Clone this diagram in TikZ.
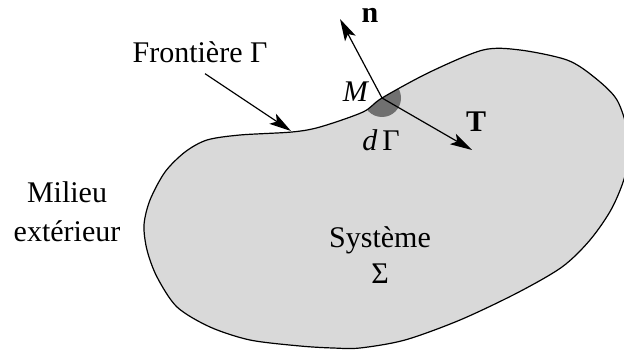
\documentclass[tikz,border=0pt]{standalone}
\usepackage{fontspec}
\setmainfont{Liberation Serif}
\usetikzlibrary{arrows.meta}

\definecolor{domainfill}{RGB}{217,217,217}
\definecolor{patchfill}{RGB}{112,112,112}

\begin{document}
\begin{tikzpicture}[x=0.5pt,y=-0.5pt,
    every node/.style={font=\fontsize{15}{19.5}\selectfont, inner sep=0pt},
    vec/.style={line width=0.6pt, -{Stealth[length=11pt,width=6pt,inset=2.5pt]}}]

% Frame (picture coordinates in pixels, y downwards)
\useasboundingbox (0,0) rectangle (624,352);
\clip (0,0) rectangle (624,352);

% Boundary of the system
\def\outline{plot[smooth cycle] coordinates {
  (382,98) (430,72) (483,50) (520,50) (567,60) (594,77) (617,100)
  (628,135) (626,172) (612,208) (590,240) (562,267)
  (517,293) (460,320) (405,340) (360,348)
  (333,348) (300,346) (250,340) (210,327) (177,307) (157,277)
  (147,250) (144,225) (150,200) (165,172) (185,152) (207,140)
  (240,135) (292,132) (320,127) (363,112)}}

\fill[domainfill] \outline;

% Surface element dGamma
\coordinate (M) at (382,98);
\begin{scope}
  \clip \outline;
  \fill[patchfill] (M) circle (19);
\end{scope}

\draw[line width=0.6pt] \outline;

% Vectors at M
\coordinate (ntip) at (340,19);
\coordinate (Ttip) at (472,150);
\draw[vec] (M) -- (ntip);
\draw[vec] (M) -- (Ttip);

% Labels
\node[anchor=base] (nlab) at (370,23) {\textbf{n}};
\node[anchor=base] (Tlab) at (476,132) {\textbf{T}};
\node[anchor=base] (Mlab) at (356,102) {\textit{M}};
\node[anchor=base] (dlab) at (381,150) {\textit{d}\,Γ};

\node[anchor=base] (front) at (200,63) {Frontière Γ};
\coordinate (ftip) at (291,131);
\draw[vec] ([xshift=2.5pt,yshift=-5pt]front.south) -- (ftip);

\node[align=center] (milieu) at (67,212) {Milieu\\extérieur};

\node[anchor=base] (sys) at (380,247) {Système};
\node[anchor=base] (sigma) at (380,283) {Σ};

\end{tikzpicture}
\end{document}
